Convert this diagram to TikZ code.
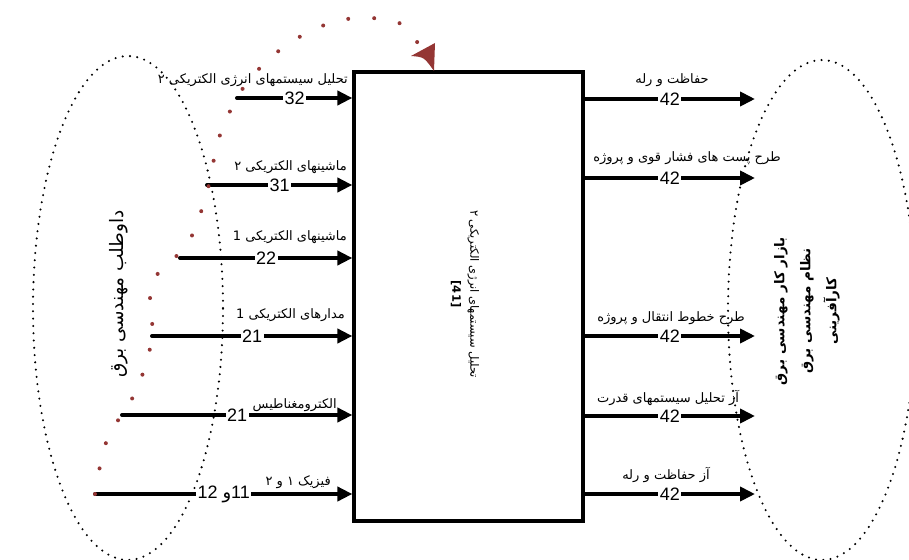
\documentclass[tikz,border=0pt]{standalone}
\usepackage{fontspec}
\setmainfont{Liberation Sans}
\newfontfamily\fa[Script=Arabic]{DejaVu Sans}
\TeXXeTstate=1
\usetikzlibrary{arrows.meta,shapes.geometric}
\definecolor{dred}{HTML}{943634}
\begin{document}
\begin{tikzpicture}[x=1pt,y=-1pt,
  arr/.style={line width=4pt, line cap=round, -{Triangle[length=15pt,width=14pt]}},
  num/.style={fill=white, inner sep=1.5pt, font=\fontsize{18}{18}\selectfont},
  lbl/.style={font=\fa\fontsize{13}{15}\selectfont, inner sep=0pt},
  dotell/.style={ellipse, draw, line width=2.3pt, line cap=round, dash pattern=on 0pt off 7.3pt},
  reddots/.style={dred, line width=4pt, line cap=round, dash pattern=on 0pt off 26pt}
]
\useasboundingbox (0,0) rectangle (909,559);
% ellipses
\node[dotell, minimum width=190pt, minimum height=504pt] (lell) at (128,308) {};
\node[dotell, minimum width=188pt, minimum height=500pt] (rell) at (822,310) {};
\node[rotate=90, font=\fa\fontsize{18.5}{20}\selectfont] (ltxt) at (119,294) {\beginR داوطلب مهندسی برق\endR};
\node[rotate=90, align=center, font=\fa\bfseries\fontsize{13.5}{26}\selectfont] (rtxt) at (807,311)
  {\beginR بازار کار مهندسی برق\endR\\\beginR نظام مهندسی برق\endR\\\beginR کارآفرینی\endR};
% main box
\node[draw, line width=3.2pt, minimum width=229pt, minimum height=449pt, inner sep=0pt] (box) at (468.5,296.5) {};
\node[rotate=-90, align=center, font=\fa\fontsize{11.5}{18}\selectfont] (ctxt) at (465,294)
  {\beginR تحلیل سیستمهای انرژی الکتریکی ۲\endR\\\textbf{[41]}};
% inputs
\coordinate (i1) at (237,98);
\coordinate (i2) at (207,185);
\coordinate (i3) at (180,258);
\coordinate (i4) at (152,336);
\coordinate (i5) at (122,415);
\coordinate (i6) at (95,494);
\draw[arr] (i1) -- (i1 -| box.west) node[num, midway] (n1) {32};
\draw[arr] (i2) -- (i2 -| box.west) node[num, midway] (n2) {31};
\draw[arr] (i3) -- (i3 -| box.west) node[num, midway] (n3) {22};
\draw[arr] (i4) -- (i4 -| box.west) node[num, midway] (n4) {21};
\draw[arr] (i5) -- (i5 -| box.west) node[num, midway] (n5) {21};
\draw[arr] (i6) -- (i6 -| box.west) node[num, midway] (n6) {12 {\fa و}11};
\node[lbl, anchor=east] (l1) at (348,80) {\beginR تحلیل سیستمهای انرژی الکتریکی ۲\endR};
\node[lbl, anchor=east] (l2) at (347,167) {\beginR ماشینهای الکتریکی ۲\endR};
\node[lbl, anchor=east] (l3) at (347,237) {\beginR ماشینهای الکتریکی 1\endR};
\node[lbl, anchor=east] (l4) at (345,315) {\beginR مدارهای الکتریکی 1\endR};
\node[lbl, anchor=east] (l5) at (337,405) {\beginR الکترومغناطیس\endR};
\node[lbl, anchor=east] (l6) at (331,482) {\beginR فیزیک ۱ و ۲\endR};
% outputs
\coordinate (o1) at (755,99);
\coordinate (o2) at (755,178);
\coordinate (o3) at (755,336);
\coordinate (o4) at (755,416);
\coordinate (o5) at (755,494);
\draw[arr] (box.east |- o1) -- (o1) node[num, midway] (m1) {42};
\draw[arr] (box.east |- o2) -- (o2) node[num, midway] (m2) {42};
\draw[arr] (box.east |- o3) -- (o3) node[num, midway] (m3) {42};
\draw[arr] (box.east |- o4) -- (o4) node[num, midway] (m4) {42};
\draw[arr] (box.east |- o5) -- (o5) node[num, midway] (m5) {42};
\node[lbl] (r1) at (672,80) {\beginR حفاظت و رله\endR};
\node[lbl] (r2) at (687,158) {\beginR طرح پست های فشار قوی و پروژه\endR};
\node[lbl] (r3) at (671,318) {\beginR طرح خطوط انتقال و پروژه\endR};
\node[lbl] (r4) at (668,398) {\beginR آز تحلیل سیستمهای قدرت\endR};
\node[lbl] (r5) at (666,475) {\beginR آز حفاظت و رله\endR};
% red dotted arc
\draw[reddots] plot[smooth, tension=0.55] coordinates {(i6) (107,440) (136,391) (152,338) (152,283) (188,243) (207,192) (220,135) (246,84) (288,44) (341,20) (397,22) (422,50)};
\coordinate (rt) at (434,71);
\fill[dred] (rt) -- (435,43) -- (411,56) .. controls (424,57) .. (rt) -- cycle;
\end{tikzpicture}
\end{document}
